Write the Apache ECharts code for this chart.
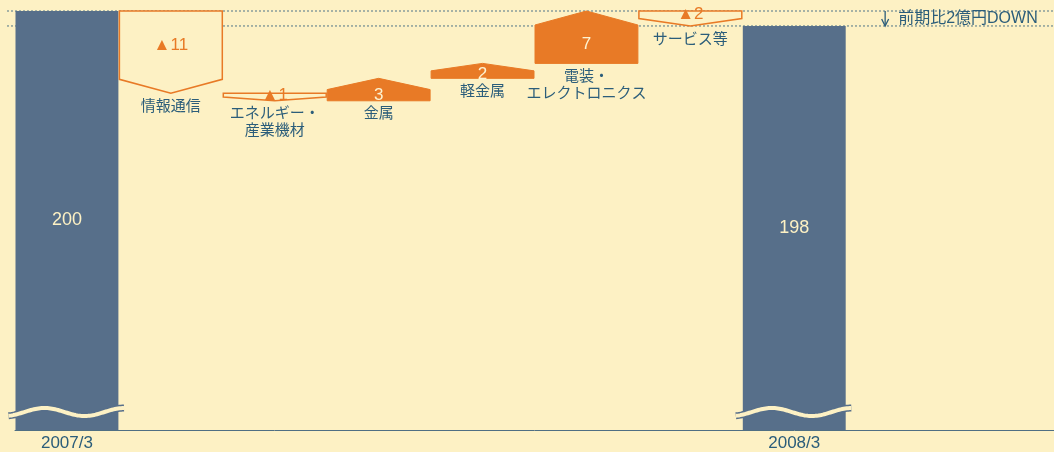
<!DOCTYPE html>
<html lang="ja">
<head>
<meta charset="utf-8">
<title>前期比 増減要因</title>
<script src="https://cdn.jsdelivr.net/npm/echarts@6/dist/echarts.min.js"></script>
<style>
  html, body { margin: 0; padding: 0; background: #fdf1c4; overflow: hidden; }
  #chart { width: 1054px; height: 452px; }
</style>
</head>
<body>
<div id="chart"></div>
<script>
// Opening and closing totals (億円)
const totalLabels = ['2007/3', '2008/3'];
const totalValues = [200, 198];

// Segment changes between the two totals (億円)
const changeLabels = ['情報通信', 'エネルギー・\n産業機材', '金属', '軽金属', '電装・\nエレクトロニクス', 'サービス等'];
const changeValues = [-11, -1, 3, 2, 7, -2];

// Value axis range (axis is broken below the visible part)
const axisMin = 144;
const axisMax = 200;

const noteText = '前期比2億円DOWN';

const BG = '#fdf1c4';
const NAVY = '#576f8a';
const ORANGE = '#e87a26';
const TEXT = '#2b5d7a';
const FONT = "'Liberation Sans', 'Noto Sans CJK JP', sans-serif";

// Category slots: opening total, each change, closing total, two empty slots on the right
const categories = [totalLabels[0]].concat(changeLabels, [totalLabels[1]], ['', '']);

const totalData = [
  [0, totalValues[0]],
  [changeLabels.length + 1, totalValues[1]]
];

// Running waterfall: [slot, from, to, change]
const changeData = [];
let running = totalValues[0];
changeValues.forEach(function (v, i) {
  changeData.push([i + 1, running, running + v, v]);
  running += v;
});

const chart = echarts.init(document.getElementById('chart'), null, { renderer: 'canvas' });

function renderTotal(params, api) {
  const idx = api.value(0);
  const val = api.value(1);
  const top = api.coord([idx, val]);
  const bottom = api.coord([idx, axisMin]);
  const w = api.size([1, 0])[0] - 1;
  const xl = top[0] - w / 2;
  const xr = top[0] + w / 2;
  // wavy break near the foot of the bar
  const yc = bottom[1] - 18;
  const pts = [];
  for (let x = xl - 7; x <= xr + 7.01; x += 1.5) {
    pts.push([x, yc - 4 * Math.cos(2 * Math.PI * (x - (xl + 29)) / 80)]);
  }
  return {
    type: 'group',
    children: [
      {
        type: 'rect',
        shape: { x: xl, y: top[1], width: w, height: bottom[1] - top[1] },
        style: { fill: NAVY }
      },
      {
        type: 'text',
        style: {
          text: String(val), x: top[0], y: (top[1] + bottom[1]) / 2,
          fill: BG, font: '18px ' + FONT, align: 'center', verticalAlign: 'middle'
        }
      },
      {
        type: 'polyline', shape: { points: pts },
        style: { stroke: NAVY, lineWidth: 7, fill: null }
      },
      {
        type: 'polyline', shape: { points: pts },
        style: { stroke: BG, lineWidth: 4, fill: null }
      }
    ]
  };
}

function renderChange(params, api) {
  const idx = api.value(0);
  const from = api.value(1);
  const to = api.value(2);
  const v = api.value(3);
  const p0 = api.coord([idx, from]);
  const p1 = api.coord([idx, to]);
  const w = api.size([1, 0])[0] - 1;
  const xc = p0[0];
  const xl = xc - w / 2;
  const xr = xc + w / 2;
  const y0 = p0[1];
  const y1 = p1[1];
  const h = Math.abs(y1 - y0);
  const tip = Math.min(14, h * 0.5);
  const down = v < 0;
  const shoulder = down ? y1 - tip : y1 + tip;
  const labelY = (y0 + shoulder) / 2;
  const lowest = Math.max(y0, y1);
  const name = changeLabels[idx - 1];
  return {
    type: 'group',
    children: [
      {
        type: 'polygon',
        shape: { points: [[xl, y0], [xr, y0], [xr, shoulder], [xc, y1], [xl, shoulder]] },
        style: down
          ? { fill: BG, stroke: ORANGE, lineWidth: 1.5 }
          : { fill: ORANGE, stroke: ORANGE, lineWidth: 1 }
      },
      {
        type: 'text',
        style: {
          text: down ? '▲' + Math.abs(v) : String(v),
          x: xc, y: labelY,
          fill: down ? ORANGE : '#fdf3d2',
          font: '17px ' + FONT, align: 'center', verticalAlign: 'middle'
        }
      },
      {
        type: 'text',
        style: {
          text: name, x: xc, y: lowest + 5,
          fill: TEXT, font: '15px ' + FONT, lineHeight: 17,
          align: 'center', verticalAlign: 'top'
        }
      }
    ]
  };
}

function renderGuide(params, api) {
  const y = api.coord([0, api.value(0)])[1];
  const cs = params.coordSys;
  return {
    type: 'line',
    shape: { x1: cs.x - 8, y1: y, x2: cs.x + cs.width, y2: y },
    style: { stroke: '#4f7587', lineWidth: 1, lineDash: [2, 2] }
  };
}

function renderNote(params, api) {
  const idx = api.value(0);
  const a = api.coord([idx, api.value(1)]);
  const b = api.coord([idx, api.value(2)]);
  const x = a[0] - 13;
  return {
    type: 'group',
    children: [
      { type: 'line', shape: { x1: x, y1: a[1], x2: x, y2: b[1] - 1 },
        style: { stroke: TEXT, lineWidth: 1.3 } },
      { type: 'polyline', shape: { points: [[x - 3.5, b[1] - 7], [x, b[1]], [x + 3.5, b[1] - 7]] },
        style: { stroke: TEXT, lineWidth: 1.3, fill: null } },
      { type: 'text',
        style: { text: noteText, x: a[0], y: (a[1] + b[1]) / 2, fill: TEXT,
          font: '16px ' + FONT, align: 'left', verticalAlign: 'middle' } }
    ]
  };
}

chart.setOption({
  backgroundColor: BG,
  animation: false,
  grid: { left: 15, right: -3, top: 11, bottom: 20, containLabel: false },
  xAxis: {
    type: 'category',
    data: categories,
    axisTick: { show: false },
    axisLine: { lineStyle: { color: '#4f6f83', width: 1 } },
    axisLabel: {
      interval: 0,
      color: TEXT,
      fontSize: 17,
      fontFamily: FONT,
      margin: 5,
      formatter: function (v) { return totalLabels.indexOf(v) >= 0 ? v : ''; }
    },
    splitLine: { show: false }
  },
  yAxis: {
    type: 'value', min: axisMin, max: axisMax, show: false
  },
  series: [
    {
      type: 'custom', name: 'guides', z: 1,
      renderItem: renderGuide,
      data: [[totalValues[0]], [totalValues[1]]],
      encode: { y: 0 }
    },
    {
      type: 'custom', name: 'totals', z: 3,
      renderItem: renderTotal,
      data: totalData,
      encode: { x: 0, y: 1 }
    },
    {
      type: 'custom', name: 'changes', z: 3,
      renderItem: renderChange,
      data: changeData,
      encode: { x: 0, y: [1, 2] }
    },
    {
      type: 'custom', name: 'note', z: 3,
      renderItem: renderNote,
      data: [[changeLabels.length + 2, totalValues[0], totalValues[1]]],
      encode: { x: 0, y: [1, 2] }
    }
  ]
});
</script>
</body>
</html>
